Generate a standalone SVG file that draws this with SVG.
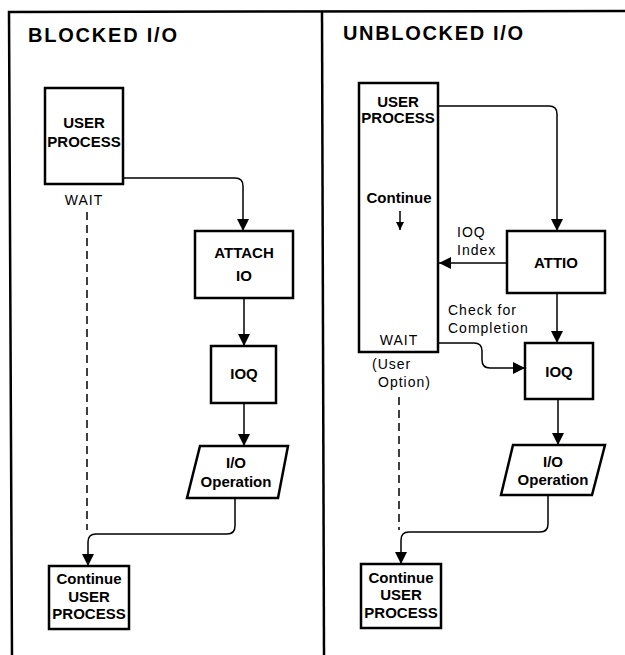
<svg xmlns="http://www.w3.org/2000/svg" width="625" height="655" viewBox="0 0 625 655">
<defs>
<style>
.box{fill:#fff;stroke:#000;stroke-width:2.5}
.c{fill:none;stroke:#000;stroke-width:1.5}
.d{fill:none;stroke:#000;stroke-width:1.5;stroke-dasharray:8 5}
.b{font-family:"Liberation Sans",Arial,sans-serif;font-weight:bold;font-size:15px;text-anchor:middle;fill:#000}
.r{font-family:"Liberation Sans",Arial,sans-serif;font-size:14px;letter-spacing:1px;fill:#000}
.t{font-family:"Liberation Sans",Arial,sans-serif;font-weight:bold;font-size:20px;fill:#000}
</style>
<marker id="ah" viewBox="0 0 12 12" refX="12" refY="6" markerWidth="12" markerHeight="12" orient="auto" markerUnits="userSpaceOnUse"><path d="M0,0 L12,6 L0,12 z" fill="#000"/></marker>
<marker id="sm" viewBox="0 0 10 10" refX="10" refY="5" markerWidth="8" markerHeight="8" orient="auto" markerUnits="userSpaceOnUse"><path d="M0,0 L10,5 L0,10 z" fill="#000"/></marker>
</defs>
<rect width="625" height="655" fill="#fff"/>
<g id="frame" fill="none" stroke="#000" stroke-width="2.5">
<path d="M12,655 L9,12 L625,11"/>
<path d="M322,12 L324,655"/>
</g>
<text class="t" x="28" y="42" textLength="149" lengthAdjust="spacing">BLOCKED I/O</text>
<text class="t" x="343" y="40" textLength="180" lengthAdjust="spacing">UNBLOCKED I/O</text>

<g id="connectors">
<path class="c" d="M123,178 H235 Q243,178 243,186 V231" marker-end="url(#ah)"/>
<path class="c" d="M244,298 V346" marker-end="url(#ah)"/>
<path class="c" d="M244,403 V446" marker-end="url(#ah)"/>
<path class="c" d="M235,498 V526 Q235,534 227,534 H96 Q88,534 88,542 V566" marker-end="url(#ah)"/>
<path class="d" d="M87,212 V530"/>

<path class="c" d="M438,106 H549 Q557,106 557,114 V231" marker-end="url(#ah)"/>
<path class="c" d="M507,263 H439" marker-end="url(#ah)"/>
<path class="c" d="M557,293 V343" marker-end="url(#ah)"/>
<path class="c" d="M438,343 H474 Q482,343 482,351 V360 Q482,368 490,368 H525" marker-end="url(#ah)"/>
<path class="c" d="M558,399 V445" marker-end="url(#ah)"/>
<path class="c" d="M548,495 V524 Q548,532 540,532 H409 Q401,532 401,540 V564" marker-end="url(#ah)"/>
<path class="d" d="M399,397 V530"/>
</g>

<g id="user-process-left">
<rect class="box" x="45" y="88" width="78" height="96"/>
<text class="b" x="84" y="128">USER</text>
<text class="b" x="84" y="147">PROCESS</text>
<text class="r" x="84" y="205" text-anchor="middle">WAIT</text>
</g>
<g id="attach-io">
<rect class="box" x="195" y="231" width="98" height="67"/>
<text class="b" x="244" y="258">ATTACH</text>
<text class="b" x="244" y="281">IO</text>
</g>
<g id="ioq-left">
<rect class="box" x="211" y="346" width="65" height="57"/>
<text class="b" x="244" y="379">IOQ</text>
</g>
<g id="io-op-left">
<polygon class="box" points="200,446 288,446 278,498 187,498"/>
<text class="b" x="236" y="468">I/O</text>
<text class="b" x="236" y="487">Operation</text>
</g>
<g id="continue-left">
<rect class="box" x="49" y="566" width="80" height="63"/>
<text class="b" x="89" y="584">Continue</text>
<text class="b" x="89" y="602">USER</text>
<text class="b" x="89" y="619">PROCESS</text>
</g>

<g id="user-process-right">
<rect class="box" x="359" y="83" width="79" height="269"/>
<text class="b" x="398" y="107">USER</text>
<text class="b" x="398" y="123">PROCESS</text>
<text class="b" x="399" y="203">Continue</text>
<path class="c" d="M400,211 V230" marker-end="url(#sm)"/>
<text class="r" x="399" y="345" text-anchor="middle">WAIT</text>
</g>
<g id="attio">
<rect class="box" x="507" y="231" width="98" height="62"/>
<text class="b" x="556" y="268">ATTIO</text>
</g>
<g id="ioq-right">
<rect class="box" x="525" y="343" width="68" height="56"/>
<text class="b" x="559" y="377">IOQ</text>
</g>
<g id="io-op-right">
<polygon class="box" points="513,445 605,445 592,495 501,495"/>
<text class="b" x="553" y="467">I/O</text>
<text class="b" x="553" y="485">Operation</text>
</g>
<g id="continue-right">
<rect class="box" x="361" y="564" width="80" height="64"/>
<text class="b" x="401" y="583">Continue</text>
<text class="b" x="401" y="600">USER</text>
<text class="b" x="401" y="618">PROCESS</text>
</g>
<g id="labels">
<text class="r" x="457" y="237">IOQ</text>
<text class="r" x="457" y="255">Index</text>
<text class="r" x="448" y="315">Check for</text>
<text class="r" x="448" y="333">Completion</text>
<text class="r" x="372" y="369">(User</text>
<text class="r" x="378" y="387">Option)</text>
</g>
</svg>
